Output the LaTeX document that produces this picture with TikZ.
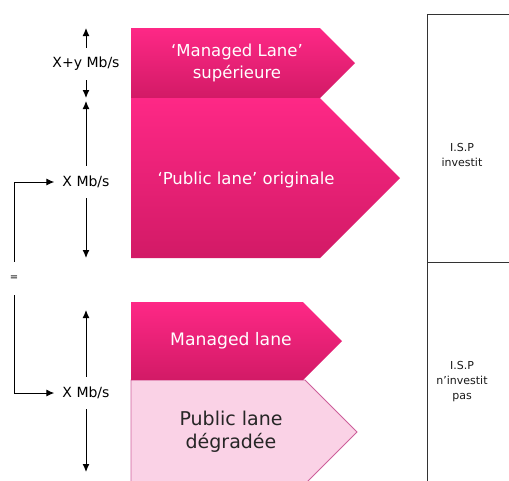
\documentclass[tikz,border=0pt]{standalone}
\usepackage{fontspec}
\setmainfont{DejaVu Sans}
\usepackage{tikz}
\usetikzlibrary{positioning, calc, arrows.meta}
\definecolor{pinktop}{RGB}{254,40,134}
\definecolor{pinkbot}{RGB}{210,26,102}
\definecolor{pinklight}{RGB}{250,210,230}
\definecolor{pinkedge}{RGB}{205,95,155}

\begin{document}
\begin{tikzpicture}[x=1pt, y=-1pt,
	lane/.style={top color=pinktop, bottom color=pinkbot},
	lanetext/.style={text=white, align=center},
	rate/.style={font=\fontsize{14}{16}\selectfont, inner xsep=8pt, inner ysep=0pt, minimum height=32pt},
	isp/.style={font=\fontsize{11}{15}\selectfont, align=center, text=black!90},
	arr/.style={-{Latex[length=8pt,width=7pt]}, line width=1pt}]
	\clip (0,0) rectangle (509,480);

	% I.S.P investit
	\shade[lane] (131,28) -- (320,28) -- (355,63) -- (320,98) -- (131,98) -- cycle;
	\shade[lane] (131,98) -- (320,98) -- (400,178) -- (320,258) -- (131,258) -- cycle;
	\node[lanetext, font=\fontsize{16.5}{22}\selectfont] (mls) at (237,63) {‘Managed Lane’\\supérieure};
	\node[lanetext, font=\fontsize{16.5}{20}\selectfont] (plo) at (246,180) {‘Public lane’ originale};

	% I.S.P n'investit pas
	\filldraw[fill=pinklight, draw=pinkedge, line width=0.8pt] (131,380) -- (305,380) -- (357,432) -- (305,484) -- (131,484) -- cycle;
	\shade[lane] (131,302) -- (303,302) -- (342,341) -- (303,380) -- (131,380) -- cycle;
	\node[lanetext, font=\fontsize{17.2}{20}\selectfont] (ml) at (231,341) {Managed lane};
	\node[align=center, font=\fontsize{19}{23}\selectfont, text=black!85] (pld) at (231,432) {Public lane\\dégradée};

	\node[rate] (xy) at (86,64) {X+y Mb/s};
	\node[rate] (xa) at (86,182) {X Mb/s};
	\node[rate] (xb) at (86,393) {X Mb/s};
	\coordinate (xyup) at (86,28);
	\coordinate (xydn) at (86,98);
	\coordinate (xaup) at (86,101);
	\coordinate (xadn) at (86,258);
	\coordinate (xbup) at (86,310);
	\coordinate (xbdn) at (86,472);
	\draw[arr] (xy.north) -- (xyup);
	\draw[arr] (xy.south) -- (xydn);
	\draw[arr] (xa.north) -- (xaup);
	\draw[arr] (xa.south) -- (xadn);
	\draw[arr] (xb.north) -- (xbup);
	\draw[arr] (xb.south) -- (xbdn);

	\node[font=\fontsize{10}{12}\selectfont, inner sep=0pt, minimum height=33pt] (eq) at (14,278.5) {=};
	\draw[arr] (eq.north) |- (xa.west);
	\draw[arr] (eq.south) |- (xb.west);

	\draw[line width=0.8pt, black!80] (427,14) rectangle (540,520);
	\draw[line width=0.8pt, black!80] (427,262) -- (540,262);
	\node[isp] (ispa) at (462,155) {I.S.P\\investit};
	\node[isp] (ispb) at (462,382) {I.S.P\\n'investit\\pas};
\end{tikzpicture}
\end{document}
